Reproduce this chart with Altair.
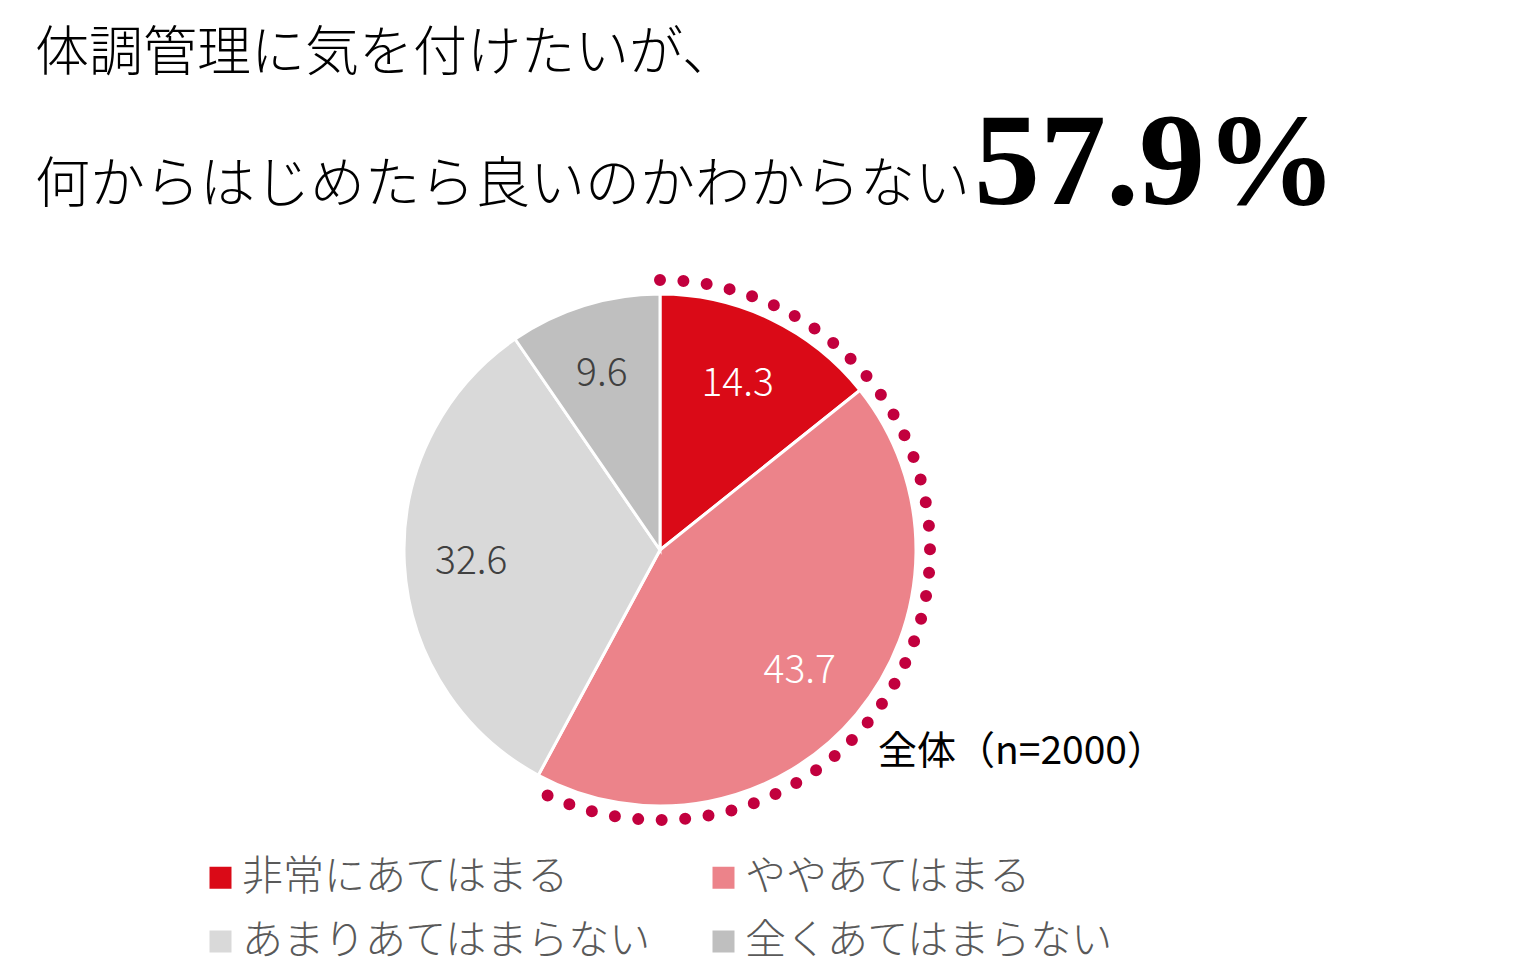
import altair as alt
import pandas as pd

# ---- data ----
categories = ["非常にあてはまる", "ややあてはまる", "あまりあてはまらない", "全くあてはまらない"]
values = [14.3, 43.7, 32.6, 9.6]
colors = ["#DA0A17", "#EC838A", "#D9D9D9", "#BFBFBF"]
label_colors = ["#FFFFFF", "#FFFFFF", "#404040", "#404040"]
title_lines = ["体調管理に気を付けたいが、", "何からはじめたら良いのかわからない"]
headline = "57.9%"
sample_note = "全体（n=2000）"

df = pd.DataFrame({
    "cat": categories,
    "value": values,
    "idx": list(range(len(categories))),
    "label": [f"{v:.1f}" for v in values],
    "lcolor": label_colors,
})
# highlighted share (first two categories)
hl = pd.DataFrame({"start": [0.0], "end": [values[0] + values[1]]})

CX, CY = 652, 542
R = 256
FONT = "Noto Sans CJK JP"

color_scale = alt.Scale(domain=categories, range=colors)

pie = alt.Chart(df).mark_arc(stroke="white", strokeWidth=3).encode(
    theta=alt.Theta("value:Q", stack=True),
    order=alt.Order("idx:Q"),
    color=alt.Color(
        "cat:N",
        scale=color_scale,
        sort=categories,
        legend=alt.Legend(
            title=None,
            orient="none",
            legendX=192,
            legendY=849,
            columns=2,
            direction="horizontal",
            symbolType="square",
            symbolSize=484,
            symbolStrokeWidth=0,
            symbolOffset=0,
            labelFont=FONT,
            labelFontSize=41,
            labelFontWeight=300,
            labelColor="#595959",
            labelOffset=1,
            labelLimit=700,
            columnPadding=51,
            rowPadding=22,
            padding=0,
        ),
    ),
    x=alt.value(CX),
    y=alt.value(CY),
    radius=alt.value(R),
)

dash = [0, 23.5] * 41 + [0, 1400]
dots = alt.Chart(hl).mark_arc(
    fillOpacity=0,
    stroke="#C2003E",
    strokeWidth=12,
    strokeCap="round",
    strokeDash=dash,
).encode(
    theta=alt.Theta("start:Q"),
    theta2="end:Q",
    x=alt.value(CX),
    y=alt.value(CY),
    radius=alt.value(270),
    radius2=alt.value(270),
)

labels = alt.Chart(df).mark_text(
    font=FONT, fontSize=39, fontWeight=300, align="center", baseline="middle"
).encode(
    theta=alt.Theta("value:Q", stack=True),
    order=alt.Order("idx:Q"),
    text="label:N",
    color=alt.Color("lcolor:N", scale=None),
    x=alt.value(CX - 3),
    y=alt.value(CY + 2),
    radius=alt.value(186),
)

t1 = alt.Chart(pd.DataFrame({"t": [title_lines[0]]})).mark_text(
    font=FONT, fontSize=54, fontWeight=300, align="left", baseline="alphabetic", color="#000000"
).encode(text="t:N", x=alt.value(27), y=alt.value(63))

t2 = alt.Chart(pd.DataFrame({"t": [title_lines[1]]})).mark_text(
    font=FONT, fontSize=55, fontWeight=300, align="left", baseline="alphabetic", color="#000000",
).encode(text="t:N", x=alt.value(27), y=alt.value(194))

big = alt.Chart(pd.DataFrame({"t": [headline]})).mark_text(
    font="Liberation Serif", fontSize=132, fontWeight="bold", align="left",
    baseline="alphabetic", color="#000000",
).encode(text="t:N", x=alt.value(966), y=alt.value(196))

note = alt.Chart(pd.DataFrame({"t": [sample_note]})).mark_text(
    font=FONT, fontSize=39, fontWeight=400, align="left", baseline="middle", color="#000000"
).encode(text="t:N", x=alt.value(870), y=alt.value(744))

chart = alt.layer(pie, dots, labels, t1, t2, big, note).properties(
    width=1521, height=962,
    autosize=alt.AutoSizeParams(type="none"),
    padding=0,
    background="white",
).configure_view(strokeWidth=0, stroke="transparent")

chart.save("out.html", embed_options={"renderer": "svg", "actions": False})
